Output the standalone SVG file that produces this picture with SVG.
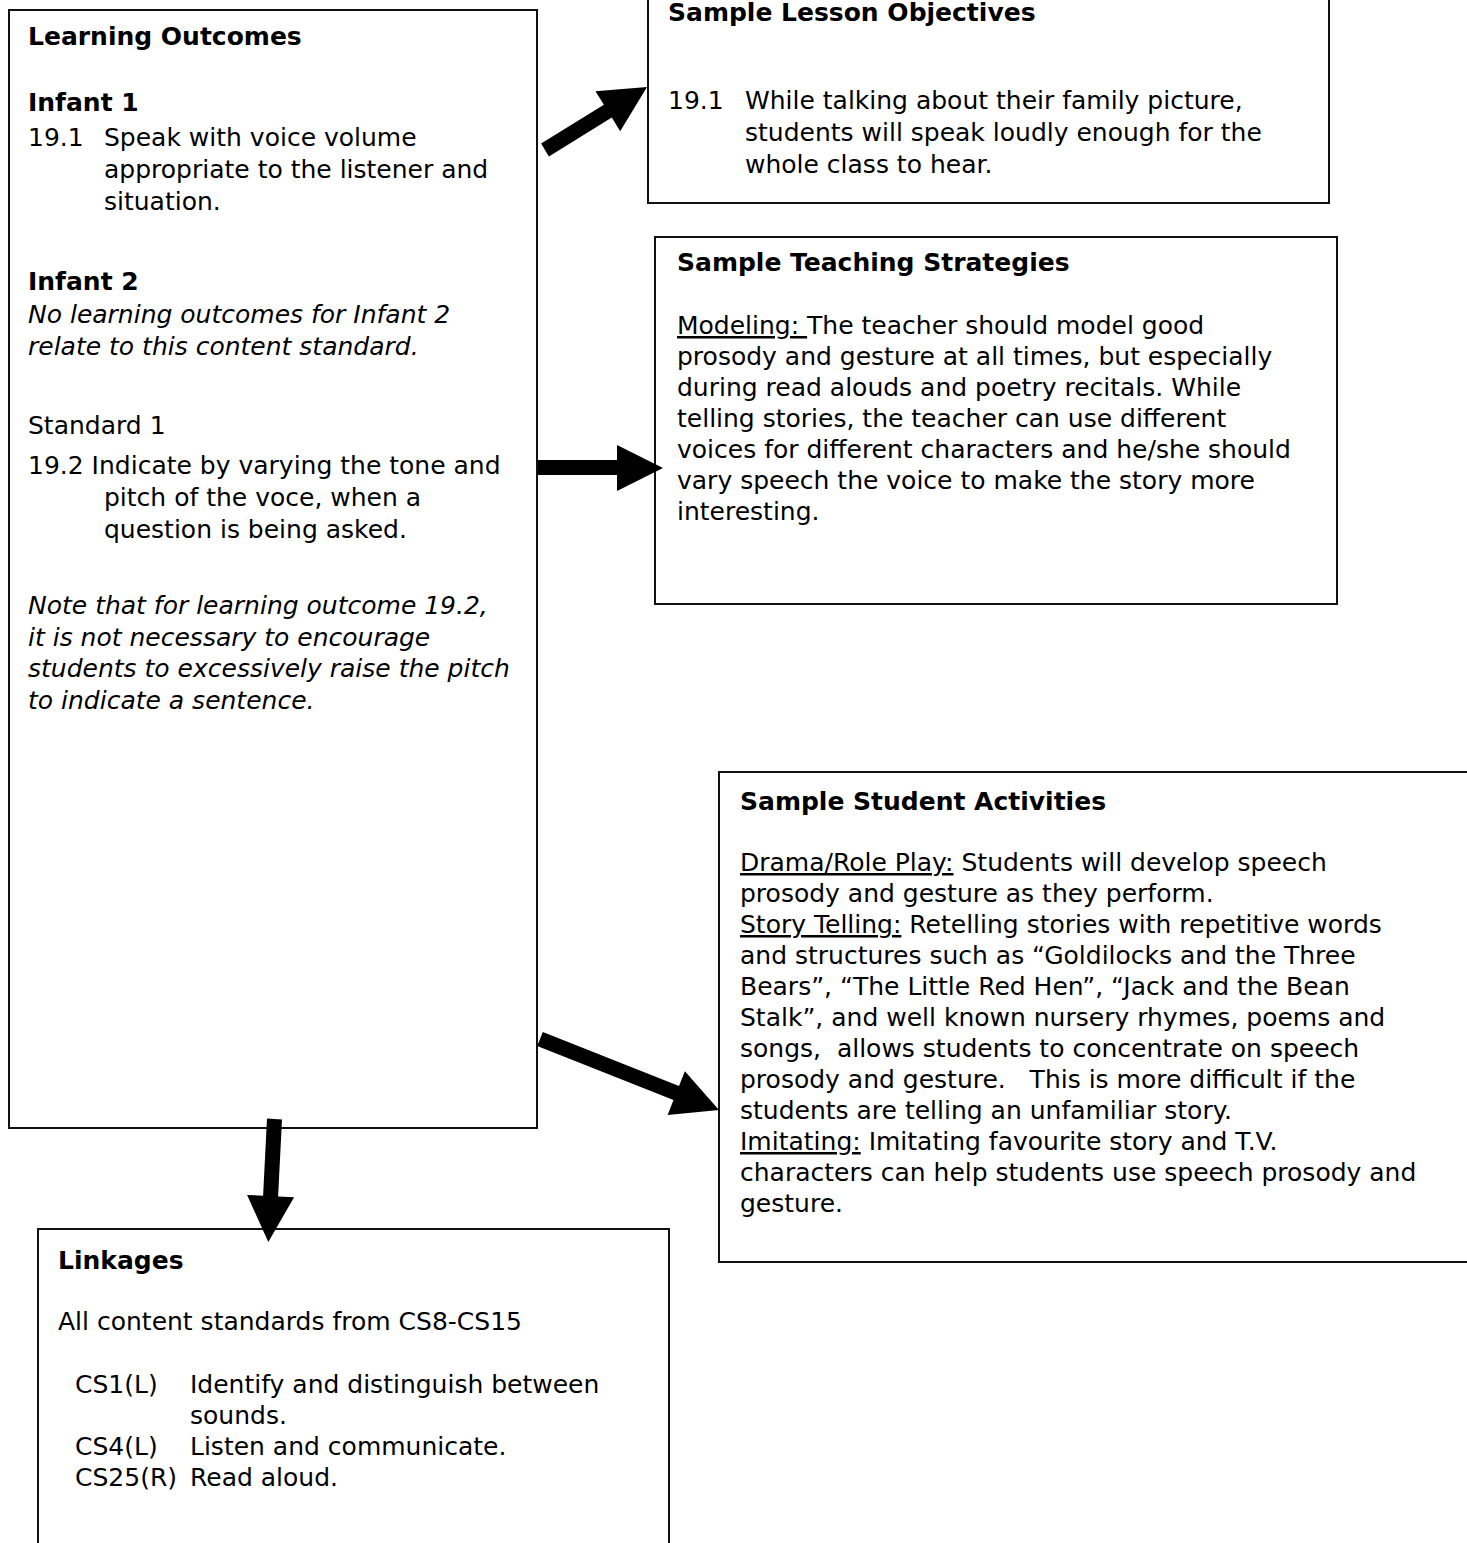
<svg xmlns="http://www.w3.org/2000/svg" width="1467" height="1543" viewBox="0 0 1467 1543">
  <style>
    .box { fill: #fff; stroke: #111; stroke-width: 2; }
    text { font-family: "DejaVu Sans", Verdana, sans-serif; font-size: 25px; fill: #000; white-space: pre; }
    .b { font-weight: bold; }
    .i { font-style: italic; }
    .u { text-decoration: underline; }
    .arrow { fill: #000; stroke: none; }
  </style>
  <rect width="1467" height="1543" fill="#fff"/>

  <!-- Learning outcomes -->
  <g id="learning-outcomes">
    <rect class="box" x="9" y="10" width="528" height="1118"/>
    <text class="b" x="28" y="45">Learning Outcomes</text>
    <text class="b" x="28" y="111">Infant 1</text>
    <text x="28" y="146">19.1</text>
    <text x="104" y="146">Speak with voice volume</text>
    <text x="104" y="178">appropriate to the listener and</text>
    <text x="104" y="210">situation.</text>
    <text class="b" x="28" y="290">Infant 2</text>
    <text class="i" x="28" y="323">No learning outcomes for Infant 2</text>
    <text class="i" x="28" y="355">relate to this content standard.</text>
    <text x="28" y="434">Standard 1</text>
    <text x="28" y="474">19.2 Indicate by varying the tone and</text>
    <text x="104" y="506">pitch of the voce, when a</text>
    <text x="104" y="538">question is being asked.</text>
    <text class="i" x="28" y="614">Note that for learning outcome 19.2,</text>
    <text class="i" x="28" y="646">it is not necessary to encourage</text>
    <text class="i" x="28" y="677">students to excessively raise the pitch</text>
    <text class="i" x="28" y="709">to indicate a sentence.</text>
  </g>

  <!-- Lesson objectives -->
  <g id="lesson-objectives">
    <rect class="box" x="648" y="-10" width="681" height="213"/>
    <text class="b" x="668" y="21">Sample Lesson Objectives</text>
    <text x="668" y="109">19.1</text>
    <text x="745" y="109">While talking about their family picture,</text>
    <text x="745" y="141">students will speak loudly enough for the</text>
    <text x="745" y="173">whole class to hear.</text>
  </g>

  <!-- Teaching strategies -->
  <g id="teaching-strategies">
    <rect class="box" x="655" y="237" width="682" height="367"/>
    <text class="b" x="677" y="271">Sample Teaching Strategies</text>
    <text x="677" y="334"><tspan class="u">Modeling: </tspan>The teacher should model good</text>
    <text x="677" y="365">prosody and gesture at all times, but especially</text>
    <text x="677" y="396">during read alouds and poetry recitals. While</text>
    <text x="677" y="427">telling stories, the teacher can use different</text>
    <text x="677" y="458">voices for different characters and he/she should</text>
    <text x="677" y="489">vary speech the voice to make the story more</text>
    <text x="677" y="520">interesting.</text>
  </g>

  <!-- Student activities -->
  <g id="student-activities">
    <rect class="box" x="719" y="772" width="770" height="490"/>
    <text class="b" x="740" y="810">Sample Student Activities</text>
    <text x="740" y="871"><tspan class="u">Drama/Role Play:</tspan> Students will develop speech</text>
    <text x="740" y="902">prosody and gesture as they perform.</text>
    <text x="740" y="933"><tspan class="u">Story Telling:</tspan> Retelling stories with repetitive words</text>
    <text x="740" y="964">and structures such as “Goldilocks and the Three</text>
    <text x="740" y="995">Bears”, “The Little Red Hen”, “Jack and the Bean</text>
    <text x="740" y="1026">Stalk”, and well known nursery rhymes, poems and</text>
    <text x="740" y="1057">songs,  allows students to concentrate on speech</text>
    <text x="740" y="1088">prosody and gesture.   This is more difficult if the</text>
    <text x="740" y="1119">students are telling an unfamiliar story.</text>
    <text x="740" y="1150"><tspan class="u">Imitating:</tspan> Imitating favourite story and T.V.</text>
    <text x="740" y="1181">characters can help students use speech prosody and</text>
    <text x="740" y="1212">gesture.</text>
  </g>

  <!-- Linkages -->
  <g id="linkages">
    <rect class="box" x="38" y="1229" width="631" height="340"/>
    <text class="b" x="58" y="1269">Linkages</text>
    <text x="58" y="1330">All content standards from CS8-CS15</text>
    <text x="75" y="1393">CS1(L)</text>
    <text x="190" y="1393">Identify and distinguish between</text>
    <text x="190" y="1424">sounds.</text>
    <text x="75" y="1455">CS4(L)</text>
    <text x="190" y="1455">Listen and communicate.</text>
    <text x="75" y="1486">CS25(R)</text>
    <text x="190" y="1486">Read aloud.</text>
  </g>

  <!-- Block arrows from the outcomes box to each of the others -->
  <g id="connectors">
    <polygon class="arrow" points="541.1,143.6 603.9,104.8 595.5,91.2 647,87 620.2,131.2 611.8,117.6 548.9,156.4"/>
    <polygon class="arrow" points="538,460 617,460 617,445 663,468 617,491 617,475 538,475"/>
    <polygon class="arrow" points="542.8,1032 679,1086.1 684.9,1071.2 719,1110 667.6,1114.9 673.5,1100 537.2,1046"/>
    <polygon class="arrow" points="282,1119.4 278.1,1196.5 294.1,1197.3 268.3,1242 247.1,1194.9 263.1,1195.7 267,1118.6"/>
  </g>
</svg>
